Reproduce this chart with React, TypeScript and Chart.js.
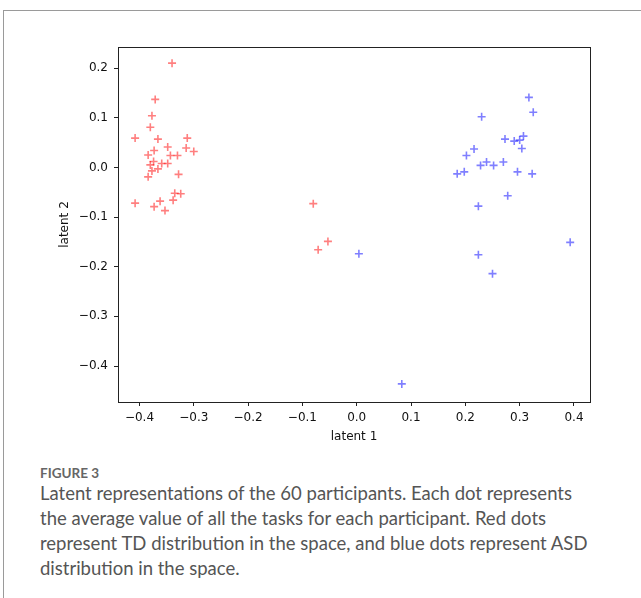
import React, { useEffect, useRef } from "react";
import { Chart, registerables } from "chart.js";

Chart.register(...registerables);

// TD participants (red)
const tdX = [-0.340, -0.371, -0.377, -0.380, -0.408, -0.366, -0.312, -0.348, -0.314, -0.300,
  -0.373, -0.384, -0.343, -0.330, -0.374, -0.380, -0.359, -0.348, -0.366, -0.377,
  -0.384, -0.328, -0.335, -0.324, -0.338, -0.408, -0.362, -0.373, -0.353,
  -0.080, -0.053, -0.071];
const tdY = [0.210, 0.137, 0.104, 0.081, 0.059, 0.057, 0.059, 0.041, 0.039, 0.032,
  0.034, 0.025, 0.024, 0.024, 0.012, 0.005, 0.008, 0.008, -0.003, -0.007,
  -0.019, -0.014, -0.052, -0.053, -0.066, -0.072, -0.068, -0.079, -0.087,
  -0.073, -0.149, -0.166];

// ASD participants (blue)
const asdX = [0.317, 0.325, 0.230, 0.307, 0.290, 0.300, 0.273, 0.304, 0.216, 0.202,
  0.270, 0.239, 0.228, 0.252, 0.296, 0.323, 0.198, 0.185, 0.278, 0.224,
  0.393, 0.224, 0.250, 0.004, 0.083];
const asdY = [0.141, 0.111, 0.102, 0.063, 0.053, 0.055, 0.057, 0.038, 0.037, 0.024,
  0.011, 0.011, 0.004, 0.004, -0.009, -0.013, -0.009, -0.013, -0.057, -0.078,
  -0.151, -0.176, -0.214, -0.174, -0.436];

const xTicks = [-0.4, -0.3, -0.2, -0.1, 0.0, 0.1, 0.2, 0.3, 0.4];
const yTicks = [-0.4, -0.3, -0.2, -0.1, 0.0, 0.1, 0.2];

const xLabel = "latent 1";
const yLabel = "latent 2";

const fmt = (v: number) => {
  const s = v.toFixed(1);
  if (s === "-0.0") return "0.0";
  return s.startsWith("-") ? "\u2212" + s.slice(1) : s;
};

const frame = {
  id: "frame",
  afterDraw(chart: any) {
    const { ctx, chartArea } = chart;
    ctx.save();
    ctx.strokeStyle = "#222";
    ctx.lineWidth = 1;
    ctx.strokeRect(
      Math.round(chartArea.left) + 0.5,
      Math.round(chartArea.top) + 0.5,
      Math.round(chartArea.right - chartArea.left),
      Math.round(chartArea.bottom - chartArea.top)
    );
    ctx.restore();
  },
};

export default function App() {
  const ref = useRef<HTMLCanvasElement | null>(null);

  useEffect(() => {
    if (!ref.current) return;
    const toPts = (xs: number[], ys: number[]) => xs.map((x, i) => ({ x, y: ys[i] }));
    const tickFont = { family: "DejaVu Sans", size: 12 };
    const chart = new Chart(ref.current, {
      type: "scatter",
      data: {
        datasets: [
          {
            label: "TD",
            data: toPts(tdX, tdY),
            pointStyle: "cross",
            radius: 4,
            borderWidth: 1.6,
            borderColor: "rgba(255,0,0,0.5)",
            backgroundColor: "rgba(255,0,0,0.5)",
          },
          {
            label: "ASD",
            data: toPts(asdX, asdY),
            pointStyle: "cross",
            radius: 4,
            borderWidth: 1.6,
            borderColor: "rgba(0,0,255,0.5)",
            backgroundColor: "rgba(0,0,255,0.5)",
          },
        ],
      },
      options: {
        animation: false,
        responsive: false,
        layout: { padding: { left: 0, right: 20, top: 17, bottom: 6 } },
        plugins: { legend: { display: false }, tooltip: { enabled: false } },
        scales: {
          x: {
            type: "linear",
            min: -0.4395,
            max: 0.4295,
            afterBuildTicks: (s: any) => { s.ticks = xTicks.map((v) => ({ value: v })); },
            afterFit: (s: any) => { s.height = 42; },
            grid: { display: true, drawOnChartArea: false, drawTicks: true, tickLength: 4, color: "#222" },
            border: { display: true, color: "#222" },
            ticks: { color: "#111", font: tickFont, padding: 5, maxRotation: 0, autoSkip: false, callback: (v: any) => fmt(Number(v)) },
            title: { display: true, text: xLabel, color: "#111", font: tickFont, padding: { top: 2, bottom: 0 } },
          },
          y: {
            type: "linear",
            min: -0.4725,
            max: 0.2425,
            afterBuildTicks: (s: any) => { s.ticks = yTicks.map((v) => ({ value: v })); },
            afterFit: (s: any) => { s.width = 78; },
            grid: { display: true, drawOnChartArea: false, drawTicks: true, tickLength: 4, color: "#222" },
            border: { display: true, color: "#222" },
            ticks: { color: "#111", font: tickFont, padding: 6, autoSkip: false, callback: (v: any) => fmt(Number(v)) },
            title: { display: true, text: yLabel, color: "#111", font: tickFont, padding: { top: 18, bottom: 0 } },
          },
        },
      },
      plugins: [frame],
    });
    return () => chart.destroy();
  }, []);

  return (
    <div style={{ position: "absolute", left: 0, top: 0, width: 641, height: 598, overflow: "hidden", background: "#fff" }}>
      <div style={{ position: "absolute", left: 3, top: 10, width: 700, height: 700, border: "1px solid #9a9a9a", boxSizing: "border-box" }} />
      <canvas ref={ref} width={570} height={420} style={{ position: "absolute", left: 40, top: 30, width: 570, height: 420 }} />
      <div style={{ position: "absolute", left: 40, top: 465, fontFamily: "Lato, 'Open Sans', sans-serif", fontSize: 13.5, fontWeight: 700, color: "#666", lineHeight: "16px" }}>
        FIGURE 3
      </div>
      <div style={{ position: "absolute", left: 40, top: 481, width: 548, fontFamily: "Lato, 'Open Sans', sans-serif", fontSize: 18.5, lineHeight: "25px", color: "#555" }}>
        Latent representations of the 60 participants. Each dot represents the average value of all the tasks for each participant. Red dots represent TD distribution in the space, and blue dots represent ASD distribution in the space.
      </div>
    </div>
  );
}
